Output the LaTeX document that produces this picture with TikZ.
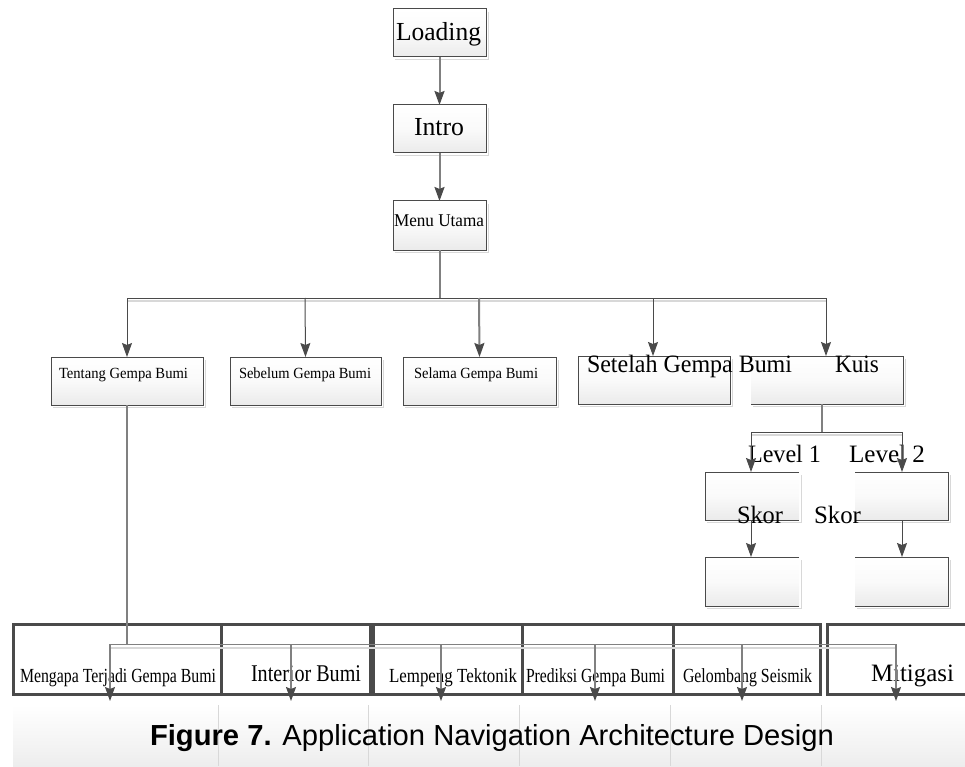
\documentclass[tikz,border=0pt]{standalone}
\usepackage{fontspec}
\usepackage{graphicx}
\setmainfont{Liberation Serif}
\newfontfamily\capfont{Liberation Sans}
\usetikzlibrary{arrows.meta}
\definecolor{edge}{HTML}{4A4A4A}
\definecolor{wire}{HTML}{808080}
\definecolor{ghost}{HTML}{D8D8D8}
\newcommand{\txt}[6]{% name, x, baseline, width, size, text
  \node[lab] (#1) at (#2,#3) {\fontsize{#5pt}{#5pt}\selectfont\resizebox{#4pt}{\height}{#6}};}
\newcommand{\bx}[6][flatbox]{% style, name, x1,y1,x2,y2
  \draw[ghost,line width=1.6pt] (#5+2.5,#4+3) -- (#5+2.5,#6+2.5) -- (#3+2,#6+2.5);
  \node[#1,minimum width={#5-#3},minimum height={#6-#4}] (#2) at ({(#3+#5)/2},{(#4+#6)/2}) {};}
\tikzset{
  lab/.style={inner sep=0pt,outer sep=0pt,anchor=base west,text=black},
  flatbox/.style={rectangle,inner sep=0pt,outer sep=0pt,draw=edge,line width=1pt,top color=white,bottom color=black!8,middle color=black!2},
  openbox/.style={rectangle,inner sep=0pt,outer sep=0pt,top color=white,bottom color=black!8,middle color=black!2},
  thickbox/.style={rectangle,inner sep=0pt,outer sep=0pt,draw=edge,line width=3pt},
  fadebox/.style={rectangle,inner sep=0pt,outer sep=0pt,top color=white,bottom color=black!7},
  wirea/.style={draw=wire,line width=2pt},
  wireb/.style={draw=edge,line width=1pt},
  tipped/.style={-{Stealth[length=14pt,width=10pt,inset=2pt,color=edge]}},
}
\begin{document}
\begin{tikzpicture}[x=1pt,y=-1pt]
\useasboundingbox[fill=white] (0,0) rectangle (965,767);
% faded strip below the table
\node[fadebox,minimum width=952pt,minimum height=61pt] (strip) at (489,735.5) {};
\coordinate (s1t) at (218,705); \coordinate (s1b) at (218,766);
\coordinate (s2t) at (368,705); \coordinate (s2b) at (368,766);
\coordinate (s3t) at (519,705); \coordinate (s3b) at (519,766);
\coordinate (s4t) at (670,705); \coordinate (s4b) at (670,766);
\coordinate (s5t) at (821,705); \coordinate (s5b) at (821,766);
\foreach \i in {1,...,5} \draw[ghost,line width=.8pt] (s\i t) -- (s\i b);
% boxes
\bx{loading}{393}{9}{486}{57}
\bx{intro}{393}{105}{486}{153}
\bx{menu}{393}{201}{486}{250}
\bx{tentang}{51}{357}{203}{405}
\bx{sebelum}{230}{357}{381}{405}
\bx{selama}{403}{357}{556}{405}
\bx{setelah}{578}{356}{730}{404}
\bx[openbox]{kuis}{751}{356}{903}{404}
\draw[edge,line width=1pt] (kuis.north west) -- (kuis.north east) -- (kuis.south east) -- (kuis.south west);
\bx[openbox]{lvla}{705}{472}{799}{520}
\draw[edge,line width=1pt] (lvla.north east) -- (lvla.north west) -- (lvla.south west) -- (lvla.south east);
\bx[openbox]{lvlb}{855}{472}{948}{520}
\draw[edge,line width=1pt] (lvlb.north west) -- (lvlb.north east) -- (lvlb.south east) -- (lvlb.south west);
\bx[openbox]{skora}{705}{557}{799}{606}
\draw[edge,line width=1pt] (skora.north east) -- (skora.north west) -- (skora.south west) -- (skora.south east);
\bx[openbox]{skorb}{855}{557}{948}{606}
\draw[edge,line width=1pt] (skorb.north west) -- (skorb.north east) -- (skorb.south east) -- (skorb.south west);
% bottom table
\node[thickbox,minimum width=208pt,minimum height=70pt] (b1) at (117,659) {};
\node[thickbox,minimum width=149pt,minimum height=70pt] (b2) at (295.5,659) {};
\node[thickbox,minimum width=149pt,minimum height=70pt] (b3) at (447.5,659) {};
\node[thickbox,minimum width=151pt,minimum height=70pt] (b4) at (597.5,659) {};
\node[thickbox,minimum width=147pt,minimum height=70pt] (b5) at (746.5,659) {};
\node[thickbox,minimum width=150pt,minimum height=70pt] (b6) at (902,659) {};
% texts
\txt{tLoading}{396}{40.5}{85}{26}{Loading}
\txt{tIntro}{414}{136}{50}{26}{Intro}
\txt{tMenu}{394}{226}{90}{18}{Menu Utama}
\txt{tTentang}{59}{378}{129}{15.5}{Tentang Gempa Bumi}
\txt{tSebelum}{239}{378}{132}{15.5}{Sebelum Gempa Bumi}
\txt{tSelama}{414}{378}{124}{15.5}{Selama Gempa Bumi}
\txt{tSetelah}{587}{372}{205}{25}{Setelah Gempa Bumi}
\txt{tKuis}{835}{372}{44}{25}{Kuis}
\txt{tLa}{748}{462}{73}{25}{Level 1}
\txt{tLb}{849}{462}{76}{25}{Level 2}
\txt{tSa}{737}{523}{46}{25}{Skor}
\txt{tSb}{814}{523}{47}{25}{Skor}
\txt{tM}{20}{682}{196}{20}{Mengapa Terjadi Gempa Bumi}
\txt{tI}{251}{681}{110}{24}{Interior Bumi}
\txt{tL}{389}{682}{128}{20}{Lempeng Tektonik}
\txt{tP}{526}{682}{139}{20}{Prediksi Gempa Bumi}
\txt{tG}{683}{682}{129}{20}{Gelombang Seismik}
\txt{tMi}{871}{681}{83}{25}{Mitigasi}
\node[lab] (caption) at (150,745) {\capfont\fontsize{29pt}{29pt}\selectfont\resizebox{684pt}{\height}{\textbf{Figure 7.} Application Navigation Architecture Design}};
% junctions
\coordinate (busl) at (127,298); \coordinate (busr) at (826,298); \coordinate (busm) at (439.5,298);
\coordinate (bus2) at (305,298); \coordinate (bus3) at (479,298); \coordinate (bus4) at (653,298);
\coordinate (qo) at (822,404); \coordinate (qj) at (822,432);
\coordinate (qa) at (751,432); \coordinate (qb) at (902,432);
\coordinate (qat) at (751,472); \coordinate (qbt) at (902,472);
\coordinate (qas) at (751,520); \coordinate (qbs) at (902,520);
\coordinate (qae) at (751,557); \coordinate (qbe) at (902,557);
\coordinate (hj) at (127,644);
\coordinate (h1) at (110,644); \coordinate (h2) at (291,644); \coordinate (h3) at (441,644);
\coordinate (h4) at (595,644); \coordinate (h5) at (742,644); \coordinate (h6) at (896,644);
\coordinate (e1) at (110,701); \coordinate (e2) at (291,701); \coordinate (e3) at (441,701);
\coordinate (e4) at (595,701); \coordinate (e5) at (742,701); \coordinate (e6) at (896,701);
% ghost shadows of buses
\draw[ghost,line width=1.4pt] ([yshift=-3pt]busl) -- ([yshift=-3pt]busr);
\draw[ghost,line width=1.4pt] ([yshift=-4pt]h1) -- ([yshift=-4pt]h6);
\draw[ghost,line width=1.4pt] ([yshift=-3pt]qa) -- ([yshift=-3pt]qb);
% connectors
\draw[wirea,tipped] (loading.south) -- (intro.north);
\draw[wirea,tipped] (intro.south) -- (menu.north);
\draw[wirea] (menu.south) -- (busm);
\draw[wireb] (busl) -- (busr);
\draw[wireb,tipped] (busl) -- (tentang.north);
\draw[wireb,tipped] (bus2) -- (sebelum.north);
\draw[wirea,tipped] (bus3) -- (selama.north);
\draw[wireb,tipped] (bus4) -- (setelah.north-|bus4);
\draw[wireb,tipped] (busr) -- (kuis.north-|busr);
\draw[wirea] (qo) -- (qj);
\draw[wireb] (qa) -- (qb);
\draw[wireb,tipped] (qa) -- (qat);
\draw[wireb,tipped] (qb) -- (qbt);
\draw[wireb,tipped] (qas) -- (qae);
\draw[wireb,tipped] (qbs) -- (qbe);
\draw[draw=wire,line width=1.4pt] (tentang.south) -- (hj);
\draw[draw=wire,line width=1pt] (h1) -- (h6);
\foreach \i in {1,...,6} \draw[draw=wire,line width=1.1pt,tipped] (h\i) -- (e\i);
\end{tikzpicture}
\end{document}
